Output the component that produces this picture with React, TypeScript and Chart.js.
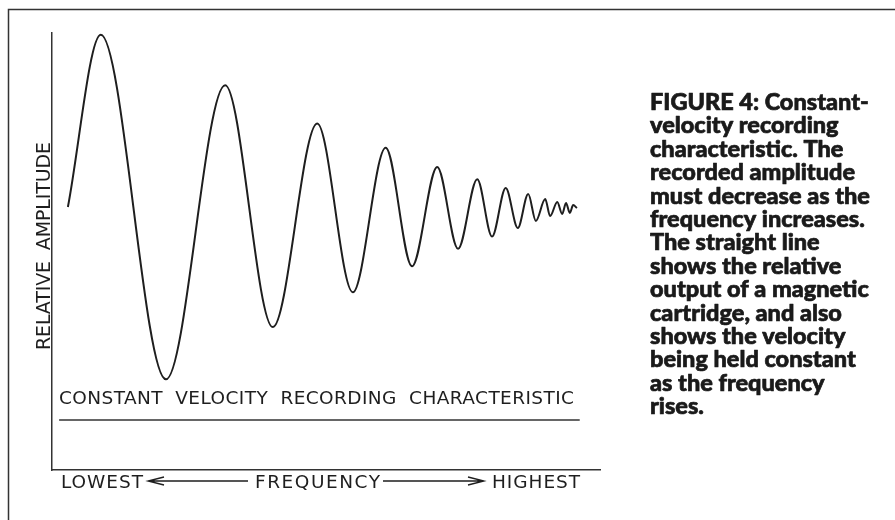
import { useEffect, useRef } from 'react';
import { Chart, registerables } from 'chart.js';

Chart.register(...registerables);

// Wave extrema (frequency 0..100 along the axis, amplitude relative to the centre line)
const frequency = [2.9, 8.9, 20.8, 31.6, 40.3, 48.4, 54.9, 60.9, 65.7, 70.3, 74.1, 77.6, 80.3, 82.8, 85.0, 86.9, 88.3, 90.0, 90.9, 92.2, 93.1, 93.8, 94.5, 95.1, 95.8];
const amplitude = [0, 0.99, -0.99, 0.70, -0.69, 0.48, -0.49, 0.34, -0.34, 0.23, -0.24, 0.16, -0.17, 0.11, -0.12, 0.075, -0.08, 0.046, -0.052, 0.029, -0.04, 0.023, -0.034, 0.011, -0.006];

const constantVelocityFreq = [1.3, 96.3];
const constantVelocityLevel = [-1.224, -1.224];

const yAxisLabel = 'RELATIVE AMPLITUDE';
const constantLabel = 'CONSTANT VELOCITY RECORDING CHARACTERISTIC';
const xLabels = ['LOWEST', 'FREQUENCY', 'HIGHEST'];
const captionLines = [
  'FIGURE 4: Constant-',
  'velocity recording',
  'characteristic. The',
  'recorded amplitude',
  'must decrease as the',
  'frequency increases.',
  'The straight line',
  'shows the relative',
  'output of a magnetic',
  'cartridge, and also',
  'shows the velocity',
  'being held constant',
  'as the frequency',
  'rises.',
];

const INK = '#1e1e1e';

function fitText(ctx: CanvasRenderingContext2D, text: string, x: number, y: number, width: number, font: string, wordGap = 0) {
  ctx.font = font;
  (ctx as any).letterSpacing = '0px';
  (ctx as any).wordSpacing = wordGap + 'px';
  const w = ctx.measureText(text).width;
  const ls = (width - w) / Math.max(1, text.length - 1);
  (ctx as any).letterSpacing = ls + 'px';
  ctx.fillText(text, x, y);
  (ctx as any).letterSpacing = '0px';
  (ctx as any).wordSpacing = '0px';
}

const annotations = {
  id: 'annotations',
  afterDraw(chart: any) {
    const ctx: CanvasRenderingContext2D = chart.ctx;
    const area = chart.chartArea;
    const ys = chart.scales.y;
    ctx.save();

    // outer frame (top and left)
    ctx.strokeStyle = '#333';
    ctx.lineWidth = 1.5;
    ctx.beginPath();
    ctx.moveTo(8.5, 520);
    ctx.lineTo(8.5, 9.5);
    ctx.lineTo(895, 9.5);
    ctx.stroke();

    ctx.fillStyle = INK;
    ctx.textAlign = 'left';
    ctx.textBaseline = 'alphabetic';

    // y axis label, rotated
    ctx.save();
    ctx.translate(area.left - 2, 246);
    ctx.rotate(-Math.PI / 2);
    const yw = 208;
    fitText(ctx, yAxisLabel, -yw / 2, 0, yw, '19px "DejaVu Sans"', 5);
    ctx.restore();

    // constant velocity label above the straight line
    const lineY = ys.getPixelForValue(constantVelocityLevel[0]);
    fitText(ctx, constantLabel, 59, lineY - 16, 515, '18.5px "DejaVu Sans"', 6);

    // x axis labels with arrows
    const by = area.bottom + 18;
    fitText(ctx, xLabels[0], 61, by, 82, '18.5px "DejaVu Sans"');
    fitText(ctx, xLabels[1], 255, by, 125, '18.5px "DejaVu Sans"');
    fitText(ctx, xLabels[2], 492, by, 88, '18.5px "DejaVu Sans"');

    const ay = area.bottom + 11;
    ctx.strokeStyle = INK;
    ctx.lineWidth = 1.3;
    ctx.beginPath();
    ctx.moveTo(248, ay);
    ctx.lineTo(148, ay);
    ctx.moveTo(164, ay - 4);
    ctx.lineTo(148, ay);
    ctx.lineTo(164, ay + 4);
    ctx.moveTo(383, ay);
    ctx.lineTo(484, ay);
    ctx.moveTo(468, ay - 4);
    ctx.lineTo(484, ay);
    ctx.lineTo(468, ay + 4);
    ctx.stroke();

    // caption
    ctx.fillStyle = '#1a1a1a';
    ctx.strokeStyle = '#1a1a1a';
    ctx.lineWidth = 0.7;
    ctx.lineJoin = 'round';
    ctx.font = '900 23.5px Lato';
    captionLines.forEach((t, i) => {
      const y = 110 + i * 23.4;
      ctx.fillText(t, 650, y);
      ctx.strokeText(t, 650, y);
    });

    ctx.restore();
  },
};

export default function App() {
  const ref = useRef<HTMLCanvasElement>(null);
  useEffect(() => {
    const canvas = ref.current!;
    const chart = new Chart(canvas, {
      type: 'line',
      data: {
        datasets: [
          {
            data: frequency.map((f, i) => ({ x: f, y: amplitude[i] })),
            borderColor: INK,
            borderWidth: 2,
            pointRadius: 0,
            cubicInterpolationMode: 'monotone',
            fill: false,
          },
          {
            data: constantVelocityFreq.map((f, i) => ({ x: f, y: constantVelocityLevel[i] })),
            borderColor: '#333',
            borderWidth: 1.5,
            pointRadius: 0,
            fill: false,
          },
        ],
      },
      options: {
        responsive: false,
        animation: false,
        layout: { padding: { left: 52, top: 33, right: 295, bottom: 50 } },
        plugins: { legend: { display: false }, tooltip: { enabled: false } },
        scales: {
          x: {
            type: 'linear',
            min: 0,
            max: 100,
            ticks: { display: false },
            grid: { display: false, drawTicks: false },
            border: { display: true, color: '#333', width: 1.5 },
          },
          y: {
            type: 'linear',
            min: -1.511,
            max: 1.0,
            ticks: { display: false },
            grid: { display: false, drawTicks: false },
            border: { display: true, color: '#333', width: 1.5 },
          },
        },
      },
      plugins: [annotations],
    });
    return () => chart.destroy();
  }, []);
  return (
    <div style={{ position: 'absolute', left: 0, top: 0, width: 895, height: 520, background: '#fff' }}>
      <canvas ref={ref} width={895} height={520} />
    </div>
  );
}
